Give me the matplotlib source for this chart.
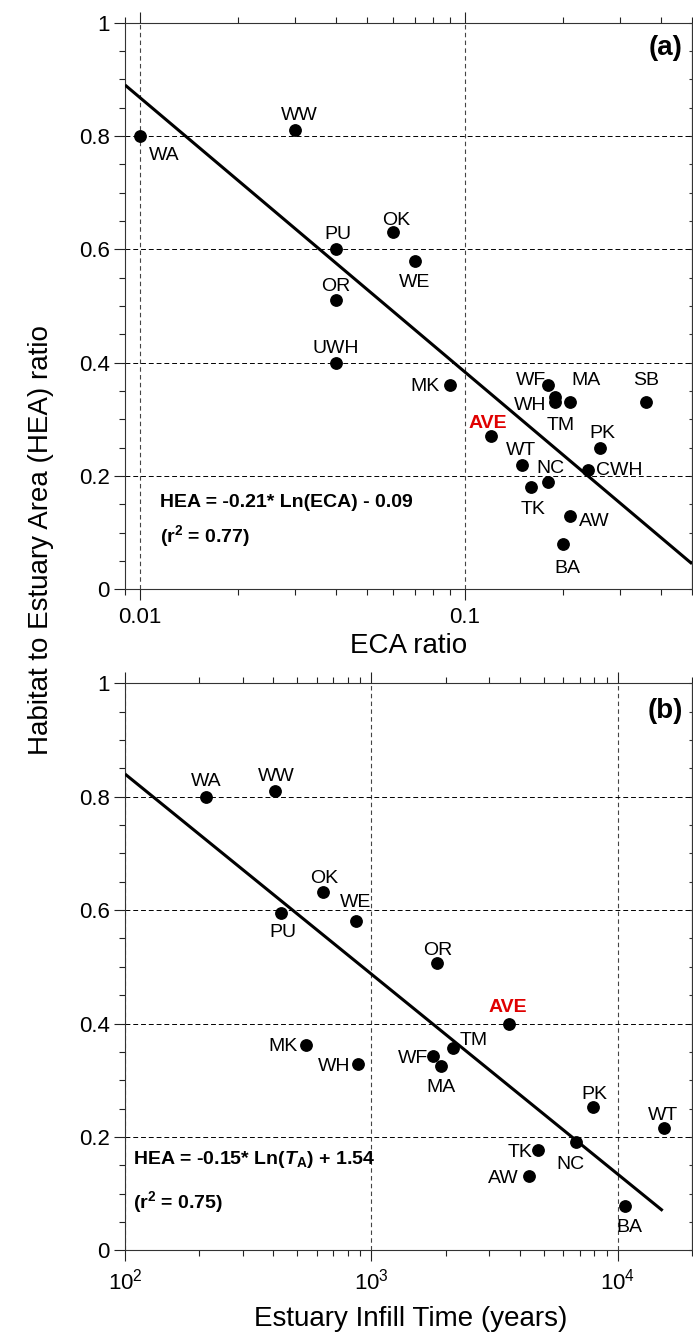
import matplotlib
matplotlib.use("Agg")
import matplotlib.pyplot as plt
import numpy as np
from matplotlib.ticker import LogLocator, MultipleLocator, NullFormatter, FuncFormatter

plt.rcParams['font.family'] = ['Liberation Sans', 'DejaVu Sans']
plt.rcParams['mathtext.fontset'] = 'custom'
plt.rcParams['mathtext.rm'] = 'Liberation Sans'
plt.rcParams['mathtext.it'] = 'Liberation Sans:italic'
plt.rcParams['mathtext.bf'] = 'Liberation Sans:bold'
plt.rcParams['mathtext.bfit'] = 'Liberation Sans:italic:bold'

# ---------------- data: panel (a) ----------------
sites_a = ["WA", "WW", "PU", "OR", "UWH", "OK", "WE", "MK", "AVE", "WT", "TK",
           "NC", "WF", "WH", "TM", "MA", "SB", "PK", "CWH", "AW", "BA"]
eca_ratio = [0.010, 0.030, 0.040, 0.040, 0.040, 0.060, 0.070, 0.090, 0.120, 0.150, 0.160,
             0.180, 0.180, 0.190, 0.190, 0.210, 0.360, 0.260, 0.240, 0.210, 0.200]
hea_a = [0.80, 0.81, 0.60, 0.51, 0.40, 0.63, 0.58, 0.36, 0.27, 0.22, 0.18,
         0.19, 0.36, 0.34, 0.33, 0.33, 0.33, 0.25, 0.21, 0.13, 0.08]
fit_a_x = [0.009, 0.5]
fit_a_y = [0.89, 0.045]

# ---------------- data: panel (b) ----------------
sites_b = ["WA", "WW", "PU", "OK", "WE", "OR", "MK", "WH", "AVE", "TM", "WF",
           "MA", "PK", "WT", "NC", "TK", "AW", "BA"]
infill_time = [213, 408, 431, 635, 865, 1845, 543, 884, 3615, 2143, 1783,
               1919, 7907, 15350, 6747, 4747, 4347, 10720]
hea_b = [0.80, 0.81, 0.595, 0.632, 0.58, 0.506, 0.363, 0.329, 0.40, 0.357, 0.343,
         0.325, 0.252, 0.215, 0.191, 0.177, 0.131, 0.079]
fit_b_x = [100, 15200]
fit_b_y = [0.84, 0.07]

# label placement (pixel offsets from point; dy = cap-centre offset, up positive)
lab_a = {"WA": (24, -17, 'center'), "WW": (4, 17.3, 'center'), "PU": (2, 17.3, 'center'),
         "OR": (0, 16.2, 'center'), "UWH": (0, 17, 'center'), "OK": (3, 14.5, 'center'),
         "WE": (0, -19.7, 'center'), "MK": (-10, 1, 'right'), "AVE": (-2.5, 15.3, 'center'),
         "WT": (-1.3, 16.7, 'center'), "TK": (1.8, -20, 'center'), "NC": (2.3, 15.5, 'center'),
         "WF": (-17, 7.6, 'center'), "WH": (-9, -6.6, 'right'), "TM": (5.5, -21, 'center'),
         "MA": (16, 24.6, 'center'), "SB": (0.7, 24.6, 'center'), "PK": (2.7, 16.7, 'center'),
         "CWH": (8, 2, 'left'), "AW": (9, -3.7, 'left'), "BA": (5, -22, 'center')}
lab_b = {"WA": (0, 17.5, 'center'), "WW": (0.5, 17, 'center'), "PU": (2, -17.2, 'center'),
         "OK": (1, 15.6, 'center'), "WE": (-0.7, 21.2, 'center'), "OR": (0.6, 15, 'center'),
         "MK": (-8.7, 0, 'right'), "WH": (-8, 0, 'right'), "AVE": (-1, 18.4, 'center'),
         "TM": (20.5, 10.3, 'center'), "WF": (-5.3, 0, 'right'), "MA": (0, -19, 'center'),
         "PK": (1.5, 15.7, 'center'), "WT": (-0.6, 15.5, 'center'), "NC": (-5.8, -19.7, 'center'),
         "TK": (-6, 0, 'right'), "AW": (-10, 0, 'right'), "BA": (4, -19.4, 'center')}

LABEL_FS = 14
CAP_HALF = 0.716 * LABEL_FS * 100 / 72 / 2

fig = plt.figure(figsize=(6.93, 13.33), dpi=100)
ax_a = fig.add_axes([0.1804, 0.5579, 0.8182, 0.4251])
ax_b = fig.add_axes([0.1804, 0.0620, 0.8182, 0.4254])


def style(ax, xmin, xmax, fmt):
    ax.set_xscale('log')
    ax.set_xlim(xmin, xmax)
    ax.set_ylim(0, 1)
    ax.yaxis.set_major_locator(MultipleLocator(0.2))
    ax.yaxis.set_minor_locator(MultipleLocator(0.05))
    ax.yaxis.set_major_formatter(FuncFormatter(lambda v, p: f"{v:g}"))
    ax.xaxis.set_major_locator(LogLocator(base=10, numticks=10))
    ax.xaxis.set_minor_locator(LogLocator(base=10, subs=np.arange(2, 10), numticks=20))
    ax.xaxis.set_minor_formatter(NullFormatter())
    if fmt is not None:
        ax.xaxis.set_major_formatter(fmt)
    ax.tick_params(axis='both', which='major', direction='out', length=8, width=0.8,
                   labelsize=16, top=True, right=False, pad=3, colors='#222')
    ax.tick_params(axis='x', which='major', pad=5)
    ax.tick_params(axis='both', which='minor', direction='out', length=4.3, width=0.8,
                   top=True, right=False, colors='#222')
    ax.tick_params(axis='both', labelcolor='black')
    for s in ax.spines.values():
        s.set_color('#333')
        s.set_linewidth(0.8)
    ax.grid(True, which='major', axis='y', linestyle=(0, (5, 3)), color='black', linewidth=0.7)
    ax.grid(True, which='major', axis='x', linestyle=(0, (4, 3)), color='#444', linewidth=0.8)
    sec = ax.secondary_yaxis('right')
    sec.set_yticks(np.arange(0, 1.001, 0.05))
    sec.tick_params(direction='in', length=2.5, width=0.8, labelright=False, colors='#333')
    sec.spines['right'].set_color('#333')
    sec.spines['right'].set_linewidth(0.8)


def draw(ax, xs, ys, names, labs, fx, fy):
    ax.plot(fx, fy, color='black', linewidth=2.2, zorder=3, solid_capstyle='butt')
    ax.plot(xs, ys, 'o', color='black', markersize=8.2, zorder=4, linestyle='none')
    for x, y, n in zip(xs, ys, names):
        dx, dy, ha = labs[n]
        if n == "AVE":
            kw = dict(color='#e00000', fontweight='bold')
        else:
            kw = dict(color='black')
        ax.annotate(n, (x, y), xytext=(dx, dy - CAP_HALF), textcoords='offset pixels',
                    ha=ha, va='baseline', fontsize=LABEL_FS, zorder=5, **kw)


style(ax_a, 0.009, 0.5, FuncFormatter(lambda v, p: f"{v:g}"))
style(ax_b, 100, 20000, None)

draw(ax_a, eca_ratio, hea_a, sites_a, lab_a, fit_a_x, fit_a_y)
draw(ax_b, infill_time, hea_b, sites_b, lab_b, fit_b_x, fit_b_y)

ax_a.text(0.984, 0.956, '(a)', transform=ax_a.transAxes, ha='right', va='center',
          fontsize=20, fontweight='bold')
ax_b.text(0.984, 0.952, '(b)', transform=ax_b.transAxes, ha='right', va='center',
          fontsize=20, fontweight='bold')

ax_a.text(0.062, 0.1447, "HEA = -0.21* Ln(ECA) - 0.09", transform=ax_a.transAxes,
          fontsize=14, fontweight='bold', va='baseline', ha='left')
ax_a.text(0.062, 0.084, r"(r$^{\mathbf{2}}$ = 0.77)", transform=ax_a.transAxes,
          fontsize=14, fontweight='bold', va='baseline', ha='left')
ax_b.text(0.0135, 0.152, r"HEA = -0.15* Ln($\mathbfit{T}_{\mathbf{A}}$) + 1.54",
          transform=ax_b.transAxes, fontsize=14, fontweight='bold', va='baseline', ha='left')
ax_b.text(0.0135, 0.074, r"(r$^{\mathbf{2}}$ = 0.75)", transform=ax_b.transAxes,
          fontsize=14, fontweight='bold', va='baseline', ha='left')

fig.text(0.5895, 1 - 653 / 1333, "ECA ratio", ha='center', va='baseline', fontsize=20)
fig.text(0.592, 1 - 1326.5 / 1333, "Estuary Infill Time (years)", ha='center',
         va='baseline', fontsize=20)
fig.text(0.0592, 0.595, "Habitat to Estuary Area (HEA) ratio", rotation=90,
         ha='center', va='center', fontsize=20)

fig.savefig("out.png", dpi=100)
